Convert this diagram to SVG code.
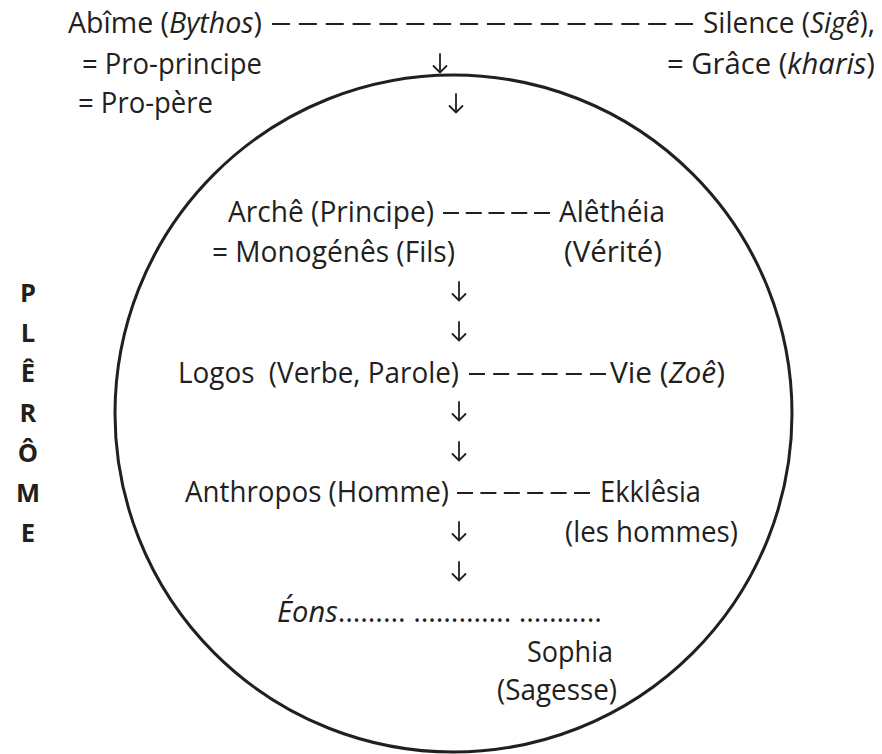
<svg xmlns="http://www.w3.org/2000/svg" xmlns:xlink="http://www.w3.org/1999/xlink" width="882" height="754" viewBox="0 0 882 754">
<style>
  .t { font-family: "Open Sans", "Noto Sans", "Liberation Sans", sans-serif; font-size: 28.5px; fill: #231f20; white-space: pre; }
  .i { font-style: italic; }
  .b { font-family: "Open Sans", "Noto Sans", "Liberation Sans", sans-serif; font-size: 25.5px; font-weight: bold; fill: #231f20; text-anchor: middle; }
  .dash { stroke: #231f20; stroke-width: 2; fill: none; }
  .arr { stroke: #231f20; stroke-width: 1.8; fill: none; stroke-linecap: round; stroke-linejoin: miter; }
  .circ { stroke: #231f20; stroke-width: 3; fill: none; }
</style>
<defs>
  <path id="down" d="M0,-20 V-1.5 M-6.5,-8 L0,-1.5 L6.5,-8"/>
</defs>
<rect width="882" height="754" fill="#ffffff"/>

<g id="pleroma-circle">
  <circle class="circ" cx="453.5" cy="413.5" r="338.5"/>
</g>

<g id="pleroma-label">
  <text class="b" x="28" y="302">P</text>
  <text class="b" x="28" y="342">L</text>
  <text class="b" x="28" y="382">Ê</text>
  <text class="b" x="28" y="422">R</text>
  <text class="b" x="28" y="462">Ô</text>
  <text class="b" x="28" y="502">M</text>
  <text class="b" x="28" y="542">E</text>
</g>

<g id="connectors">
  <line class="dash" x1="272" y1="24" x2="693" y2="24" stroke-dasharray="18 8.87"/>
  <line class="dash" x1="443" y1="213" x2="550" y2="213" stroke-dasharray="16 6.75"/>
  <line class="dash" x1="469" y1="374" x2="606" y2="374" stroke-dasharray="16 8.2"/>
  <line class="dash" x1="457" y1="493" x2="590" y2="493" stroke-dasharray="16 7.4"/>
  <use class="arr" xlink:href="#down" x="440" y="74"/>
  <use class="arr" xlink:href="#down" x="456" y="114"/>
  <use class="arr" xlink:href="#down" x="459" y="302"/>
  <use class="arr" xlink:href="#down" x="459" y="342"/>
  <use class="arr" xlink:href="#down" x="459" y="422"/>
  <use class="arr" xlink:href="#down" x="459" y="462"/>
  <use class="arr" xlink:href="#down" x="459" y="542"/>
  <use class="arr" xlink:href="#down" x="459" y="582"/>
</g>

<g id="abime">
  <text class="t" x="68" y="33" textLength="194" lengthAdjust="spacingAndGlyphs">Abîme (<tspan class="i">Bythos</tspan>)</text>
  <text class="t" x="82" y="74" textLength="180" lengthAdjust="spacingAndGlyphs">= Pro-principe</text>
  <text class="t" x="78" y="113" textLength="135" lengthAdjust="spacingAndGlyphs">= Pro-père</text>
</g>

<g id="silence">
  <text class="t" x="703" y="33" textLength="172" lengthAdjust="spacingAndGlyphs">Silence (<tspan class="i">Sigê</tspan>),</text>
  <text class="t" x="667" y="74" textLength="208" lengthAdjust="spacingAndGlyphs">= Grâce (<tspan class="i">kharis</tspan>)</text>
</g>

<g id="arche">
  <text class="t" x="228" y="222" textLength="206" lengthAdjust="spacingAndGlyphs">Archê (Principe)</text>
  <text class="t" x="212" y="262" textLength="243" lengthAdjust="spacingAndGlyphs">= Monogénês (Fils)</text>
</g>

<g id="aletheia">
  <text class="t" x="559" y="222" textLength="106" lengthAdjust="spacingAndGlyphs">Alêthéia</text>
  <text class="t" x="564" y="262" textLength="98" lengthAdjust="spacingAndGlyphs">(Vérité)</text>
</g>

<g id="logos">
  <text class="t" x="178" y="383" textLength="281" lengthAdjust="spacingAndGlyphs">Logos  (Verbe, Parole)</text>
</g>

<g id="vie">
  <text class="t" x="610" y="383" textLength="115" lengthAdjust="spacingAndGlyphs">Vie (<tspan class="i">Zoê</tspan>)</text>
</g>

<g id="anthropos">
  <text class="t" x="185" y="502" textLength="264" lengthAdjust="spacingAndGlyphs">Anthropos (Homme)</text>
</g>

<g id="ekklesia">
  <text class="t" x="600" y="502" textLength="101" lengthAdjust="spacingAndGlyphs">Ekklêsia</text>
  <text class="t" x="565" y="542" textLength="173" lengthAdjust="spacingAndGlyphs">(les hommes)</text>
</g>

<g id="eons">
  <text class="t" x="277" y="622" textLength="325" lengthAdjust="spacingAndGlyphs"><tspan class="i">Éons</tspan>……… …………. ………..</text>
</g>

<g id="sophia">
  <text class="t" x="527" y="662" textLength="86" lengthAdjust="spacingAndGlyphs">Sophia</text>
  <text class="t" x="497" y="700" textLength="120" lengthAdjust="spacingAndGlyphs">(Sagesse)</text>
</g>
</svg>
